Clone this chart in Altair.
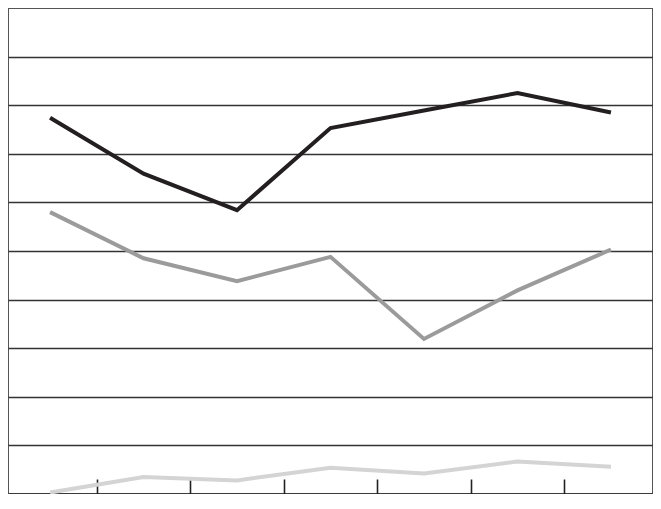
import altair as alt
import pandas as pd

# category index (7 periods)
periods = [0, 1, 2, 3, 4, 5, 6]
series_names = ["A", "B", "C"]
values_a = [77.4, 65.9, 58.4, 75.3, 78.9, 82.5, 78.5]
values_b = [58.0, 48.5, 43.8, 48.8, 31.9, 41.9, 50.3]
values_c = [0.3, 3.5, 2.8, 5.4, 4.2, 6.7, 5.6]
grid_values = [10, 20, 30, 40, 50, 60, 70, 80, 90]
tick_values = [0.5, 1.5, 2.5, 3.5, 4.5, 5.5]
colors = ["#231f20", "#9b9b9b", "#d4d4d4"]

W, H = 645, 486

rows = []
for name, vals in zip(series_names, [values_a, values_b, values_c]):
    for p, v in zip(periods, vals):
        rows.append({"period": p, "series": name, "value": v})
df = pd.DataFrame(rows)

chart = (
    alt.Chart(df)
    .mark_line(strokeWidth=4, strokeCap="butt", strokeJoin="miter")
    .encode(
        x=alt.X(
            "period:Q",
            scale=alt.Scale(domain=[-0.45, 6.45], nice=False, zero=False),
            axis=alt.Axis(
                orient="top",
                offset=-H,
                values=tick_values,
                labels=False,
                title=None,
                grid=False,
                ticks=True,
                tickSize=15,
                tickWidth=1.6,
                tickColor="#222",
                domain=True,
                domainColor="#222",
                domainWidth=2,
            ),
        ),
        y=alt.Y(
            "value:Q",
            scale=alt.Scale(domain=[0, 100], nice=False, zero=False),
            axis=alt.Axis(
                values=grid_values,
                labels=False,
                ticks=False,
                domain=False,
                title=None,
                grid=True,
                gridColor="#333",
                gridWidth=1.7,
            ),
        ),
        color=alt.Color(
            "series:N",
            scale=alt.Scale(domain=series_names, range=colors),
            legend=None,
        ),
    )
    .properties(
        width=W,
        height=H,
        padding=0,
        autosize=alt.AutoSizeParams(type="none"),
    )
    .configure_view(stroke="#555", strokeWidth=2)
)

chart.save("out.html", embed_options={"renderer": "svg", "actions": False})
